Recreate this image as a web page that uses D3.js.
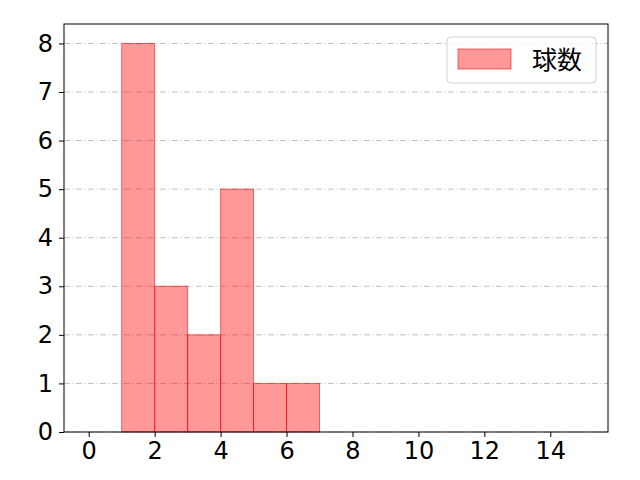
<!DOCTYPE html>
<html>
<head>
<meta charset="utf-8">
<script src="https://cdn.jsdelivr.net/npm/d3@7"></script>
<style>
  body { margin: 0; background: #fff; }
  text { font-family: "Noto Sans CJK JP", "DejaVu Sans", sans-serif; }
</style>
</head>
<body>
<div id="chart"></div>
<script>
// histogram bins (left edge, right edge) and counts
const binStarts = [1, 2, 3, 4, 5, 6];
const binEnds = [2, 3, 4, 5, 6, 7];
const counts = [8, 3, 2, 5, 1, 1];
const xTicks = [0, 2, 4, 6, 8, 10, 12, 14];
const yTicks = [0, 1, 2, 3, 4, 5, 6, 7, 8];
const seriesName = '球数';

const W = 640, H = 480;
const margin = {top: 24, right: 32, bottom: 48, left: 64};

const svg = d3.select('#chart').append('svg')
  .attr('width', W)
  .attr('height', H);

const x = d3.scaleLinear()
  .domain([-0.75, 15.75])
  .range([margin.left, W - margin.right]);
const y = d3.scaleLinear()
  .domain([0, 8.4])
  .range([H - margin.bottom, margin.top]);

// grid
svg.append('g')
  .selectAll('line')
  .data(yTicks)
  .enter()
  .append('line')
  .attr('x1', margin.left)
  .attr('x2', W - margin.right)
  .attr('y1', d => y(d))
  .attr('y2', d => y(d))
  .attr('stroke', '#b0b0b0')
  .attr('stroke-width', 0.8)
  .attr('stroke-dasharray', '6,2.5,1,2.5');

// bars
svg.append('g')
  .selectAll('rect')
  .data(counts)
  .enter()
  .append('rect')
  .attr('x', (d, i) => x(binStarts[i]))
  .attr('width', (d, i) => x(binEnds[i]) - x(binStarts[i]))
  .attr('y', d => y(d))
  .attr('height', d => y(0) - y(d))
  .attr('fill', 'rgba(255,0,0,0.4)')
  .attr('stroke', 'rgba(230,0,0,0.55)')
  .attr('stroke-width', 1);

// axes
const xAxis = svg.append('g')
  .attr('transform', `translate(0,${H - margin.bottom})`)
  .call(d3.axisBottom(x).tickValues(xTicks).tickSize(5).tickPadding(5));
const yAxis = svg.append('g')
  .attr('transform', `translate(${margin.left},0)`)
  .call(d3.axisLeft(y).tickValues(yTicks).tickSize(5).tickPadding(6));

[xAxis, yAxis].forEach(a => {
  a.select('.domain').remove();
  a.attr('font-size', null).attr('font-family', null);
  a.selectAll('text')
    .style('font-size', '24px')
    .style('font-family', '"DejaVu Sans", sans-serif')
    .attr('fill', '#000');
  a.selectAll('line').attr('stroke', '#000').attr('stroke-width', 1);
});

// frame
svg.append('rect')
  .attr('x', margin.left)
  .attr('y', margin.top)
  .attr('width', W - margin.left - margin.right)
  .attr('height', H - margin.top - margin.bottom)
  .attr('fill', 'none')
  .attr('stroke', '#000')
  .attr('stroke-width', 1);

// legend
const lg = svg.append('g').attr('transform', 'translate(447,37)');
lg.append('rect')
  .attr('width', 149)
  .attr('height', 46)
  .attr('rx', 4)
  .attr('fill', 'rgba(255,255,255,0.8)')
  .attr('stroke', '#d0d0d0');
lg.append('rect')
  .attr('x', 11)
  .attr('y', 12)
  .attr('width', 53)
  .attr('height', 20)
  .attr('fill', 'rgba(255,0,0,0.4)')
  .attr('stroke', 'rgba(230,0,0,0.55)');
lg.append('text')
  .attr('x', 85)
  .attr('y', 32)
  .style('font-size', '25px')
  .text(seriesName);
</script>
</body>
</html>
